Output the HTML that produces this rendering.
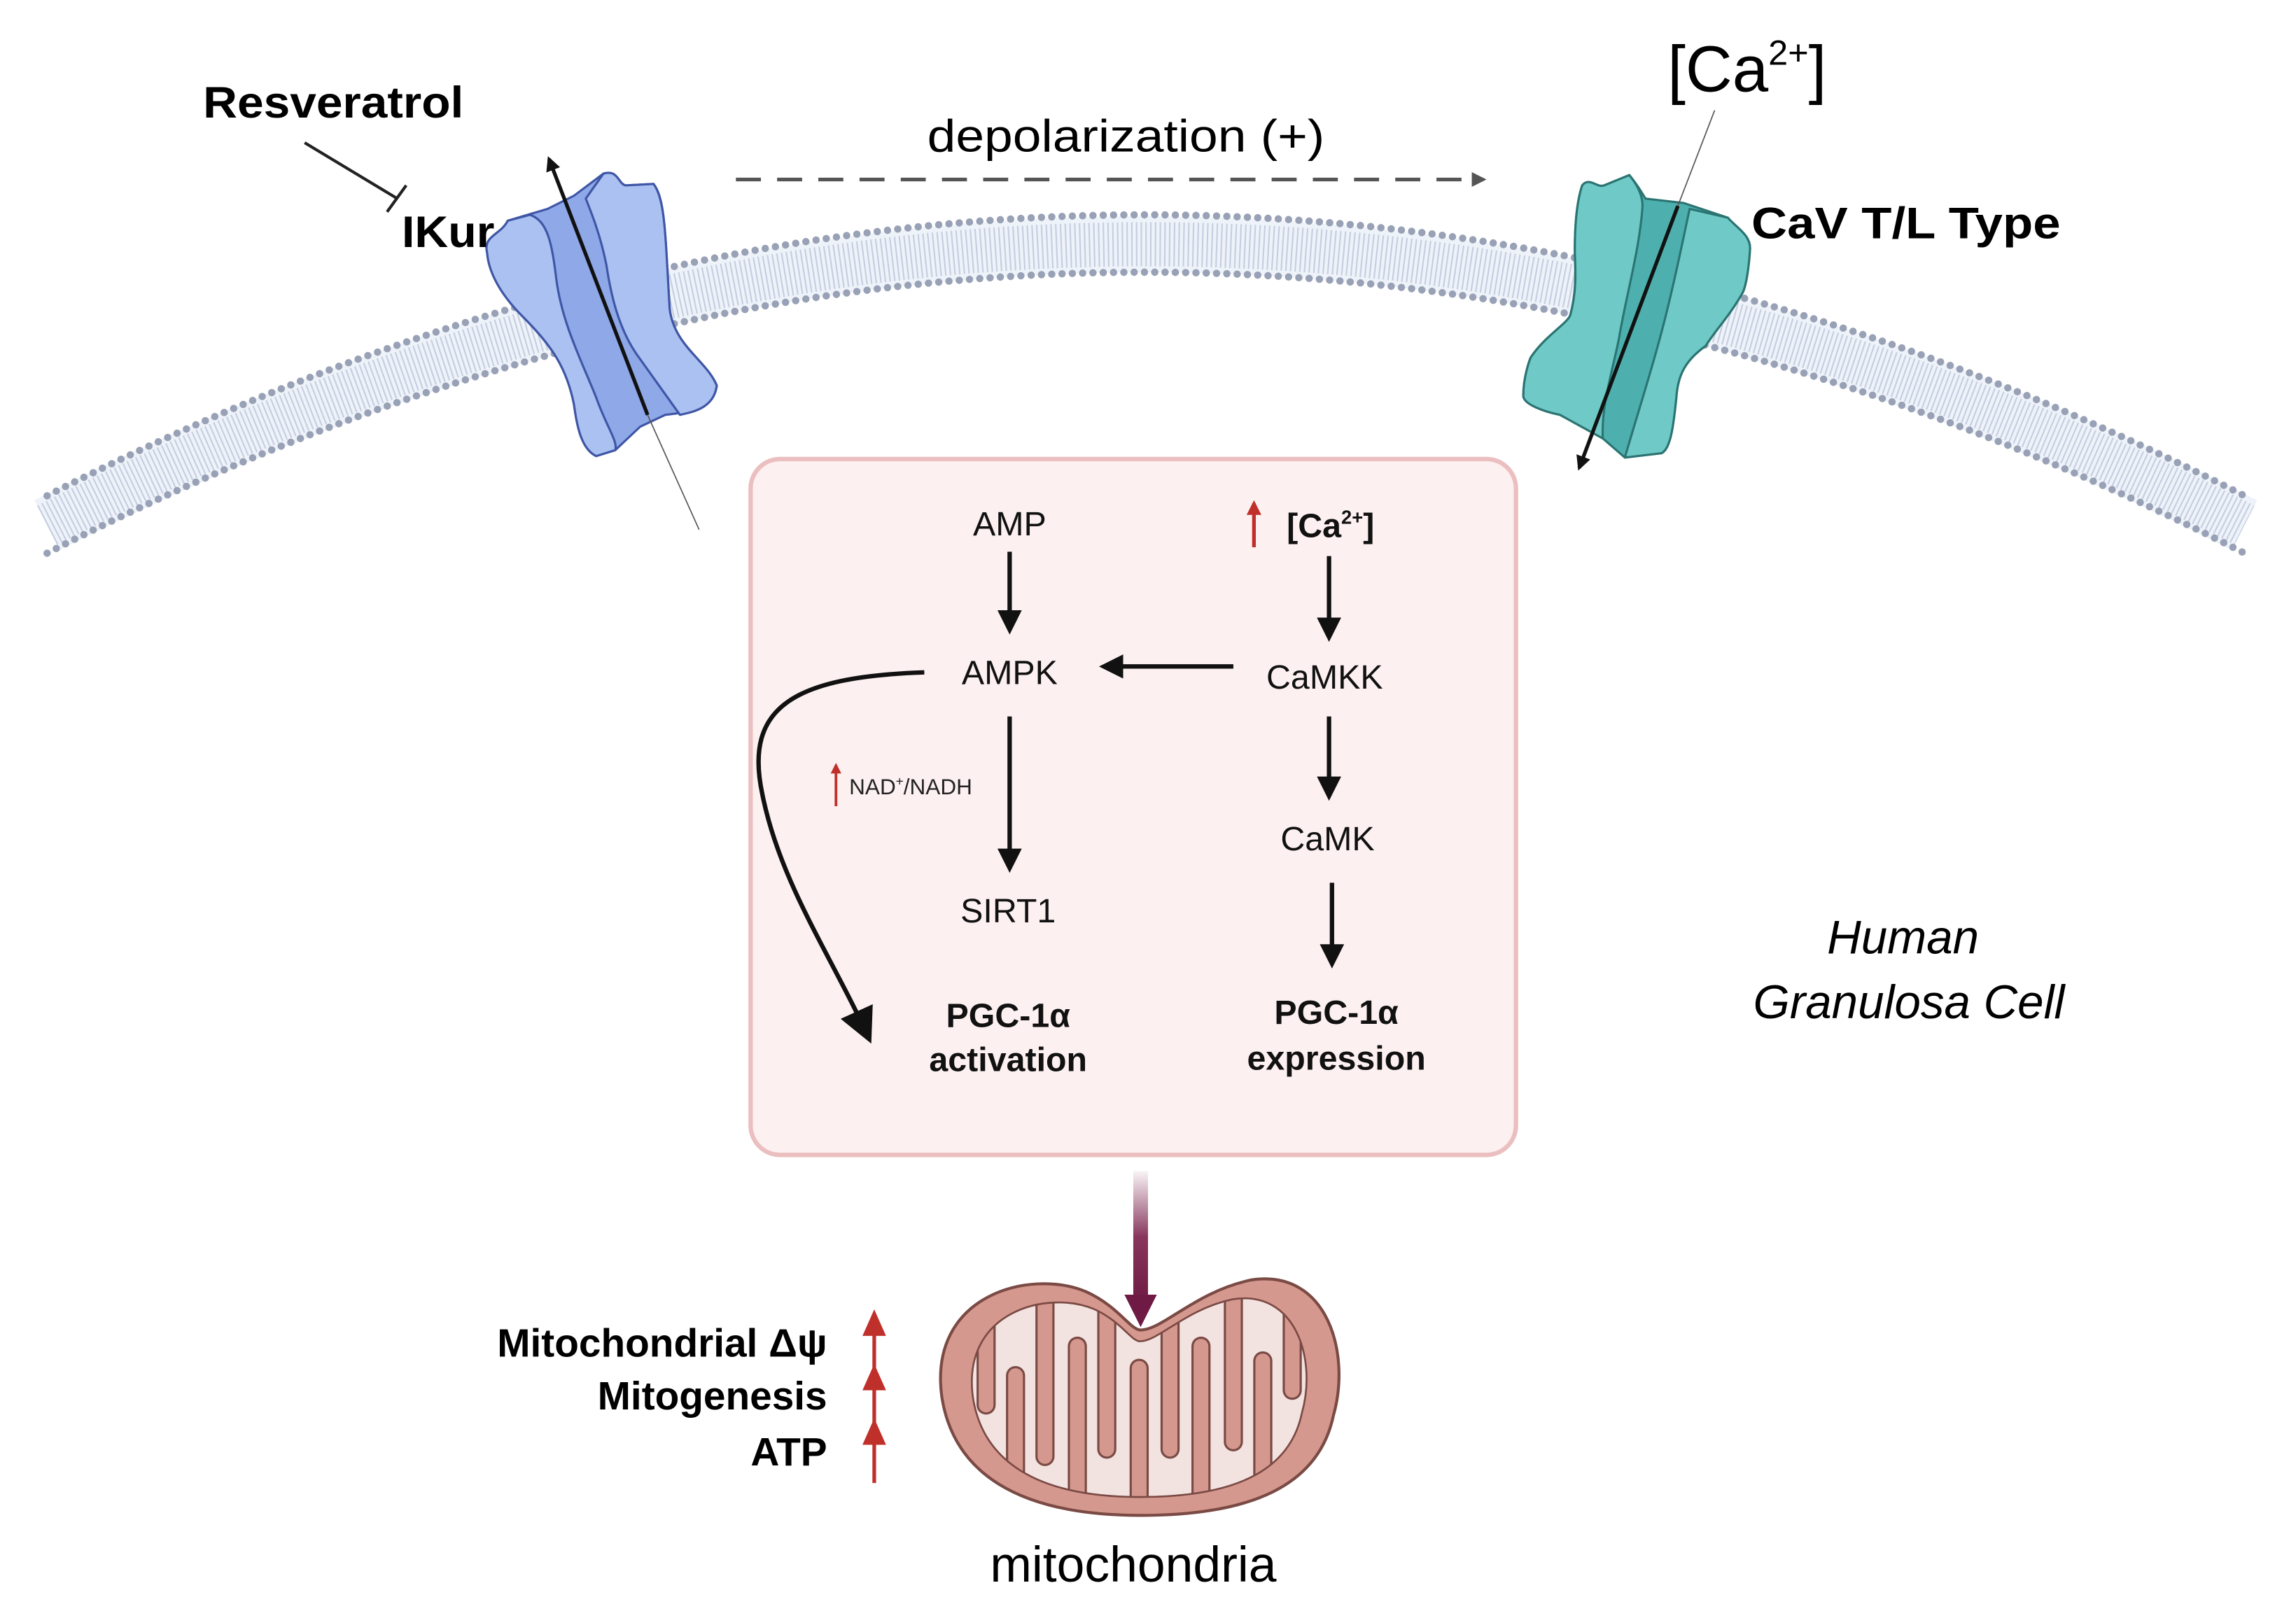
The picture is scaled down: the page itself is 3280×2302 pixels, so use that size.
<!DOCTYPE html>
<html><head><meta charset="utf-8"><style>
html,body{margin:0;padding:0;background:#fff;}
svg{display:block;}
text{font-family:"Liberation Sans",Arial,sans-serif;}
</style></head><body>
<svg width="3280" height="2302" viewBox="0 0 1560 1095" preserveAspectRatio="none" xmlns="http://www.w3.org/2000/svg">
<defs>
<marker id="ah" viewBox="0 0 10 10" refX="8" refY="5" markerWidth="5.5" markerHeight="5.5" orient="auto"><path d="M0,0 L10,5 L0,10Z" fill="#111"/></marker>
<marker id="ahs" viewBox="0 0 10 10" refX="8" refY="5" markerWidth="4" markerHeight="4" orient="auto"><path d="M0,0 L10,5 L0,10Z" fill="#111"/></marker>
<marker id="ahb" viewBox="0 0 10 10" refX="8" refY="5" markerWidth="8" markerHeight="8" orient="auto"><path d="M0,0 L10,5 L0,10Z" fill="#111"/></marker>
<marker id="ahd" viewBox="0 0 10 10" refX="8" refY="5" markerWidth="4" markerHeight="4" orient="auto"><path d="M0,0 L10,5 L0,10Z" fill="#555"/></marker>
<marker id="ahr" viewBox="0 0 10 10" refX="8" refY="5" markerWidth="4" markerHeight="4" orient="auto"><path d="M0,0 L10,5 L0,10Z" fill="#c0302a"/></marker>
<linearGradient id="pg" x1="0" y1="0" x2="0" y2="1"><stop offset="0" stop-color="#7a1f4a" stop-opacity="0.05"/><stop offset="0.5" stop-color="#7a1f4a" stop-opacity="0.9"/><stop offset="1" stop-color="#6e1a44"/></linearGradient>
<clipPath id="mc"><path transform="translate(772 952) scale(0.84) translate(-772 -952)" d="M640,950 C630,880 700,862 738,878 C760,888 768,904 775,904 C790,904 812,878 850,870 C902,862 918,920 906,962 C896,1010 850,1030 775,1030 C690,1030 648,1000 640,950Z"/></clipPath>
</defs>

<path d="M32,357 Q778,-25 1525,357" fill="none" stroke="#eef2f9" stroke-width="38"/>
<path d="M32,357 Q778,-25 1525,357" fill="none" stroke="#c5cde0" stroke-width="30" stroke-dasharray="1 2.2"/>
<path d="M32,337 Q778,-45 1525,337" fill="none" stroke="#98a1b5" stroke-width="5" stroke-linecap="round" stroke-dasharray="0 7"/>
<path d="M32,376 Q778,-6 1525,376" fill="none" stroke="#98a1b5" stroke-width="5" stroke-linecap="round" stroke-dasharray="0 7"/>

<g stroke="#3f56a6" stroke-width="1.5" stroke-linejoin="round">
<path fill="#8ea8e8" d="M331,172 C328,160 340,160 345,150 L372,142 L390,133 L410,118 C420,115 420,125 425,126 L444,125 C452,135 452,160 455,210 C458,235 480,245 487,262 C485,278 470,280 452,282 L435,290 L418,306 L405,310 C395,305 392,290 390,275 C385,250 375,235 355,215 C340,200 332,185 331,172Z"/>
<path fill="#aac1f1" d="M331,172 C328,160 340,160 345,150 L360,146 C372,150 375,165 378,190 C382,220 395,245 405,270 C412,290 420,300 418,306 L405,310 C395,305 392,290 390,275 C385,250 375,235 355,215 C340,200 332,185 331,172Z"/>
<path fill="#aac1f1" d="M398,135 L410,118 C420,115 420,125 425,126 L444,125 C452,135 452,160 455,210 C458,235 480,245 487,262 C485,278 470,280 462,282 C455,272 445,258 432,240 C420,222 415,200 412,180 C408,160 402,145 398,135Z"/>
</g>
<line x1="475" y1="360" x2="440" y2="282" stroke="#555" stroke-width="0.8"/>
<line x1="440" y1="282" x2="373" y2="108" stroke="#111" stroke-width="2.5" marker-end="url(#ahs)"/>

<g stroke="#2b7472" stroke-width="1.5" stroke-linejoin="round">
<path fill="#4db0ae" d="M1075,126 C1080,120 1085,128 1090,126 L1107,119 C1112,125 1115,130 1118,135 L1144,138 L1174,148 C1180,155 1190,160 1189,170 C1188,185 1186,195 1184,199 C1175,215 1165,225 1159,235 C1145,245 1140,255 1139,270 C1137,290 1135,305 1129,308 L1104,311 L1089,298 L1060,282 C1050,280 1035,275 1035,269 C1035,255 1040,243 1040,243 C1050,228 1065,220 1067,214 C1072,195 1070,180 1070,170 C1070,150 1072,135 1075,126Z"/>
<path fill="#6fcac7" d="M1075,126 C1080,120 1085,128 1090,126 L1107,119 C1112,125 1116,132 1116,140 C1114,170 1105,200 1100,230 C1095,255 1088,275 1089,298 L1060,282 C1050,280 1035,275 1035,269 C1035,255 1040,243 1040,243 C1050,228 1065,220 1067,214 C1072,195 1070,180 1070,170 C1070,150 1072,135 1075,126Z"/>
<path fill="#6fcac7" d="M1148,142 L1174,148 C1180,155 1190,160 1189,170 C1188,185 1186,195 1184,199 C1175,215 1165,225 1159,235 C1145,245 1140,255 1139,270 C1137,290 1135,305 1129,308 L1104,311 C1110,290 1118,265 1125,240 C1135,205 1142,170 1148,142Z"/>
</g>
<line x1="1165" y1="75" x2="1140" y2="140" stroke="#555" stroke-width="0.8"/>
<line x1="1140" y1="140" x2="1073" y2="318" stroke="#111" stroke-width="2.5" marker-end="url(#ahs)"/>

<text x="138" y="80" font-size="30" font-weight="bold" textLength="177" lengthAdjust="spacingAndGlyphs">Resveratrol</text>
<line x1="207" y1="97" x2="270" y2="135" stroke="#222" stroke-width="2"/>
<line x1="263" y1="144" x2="276" y2="126" stroke="#222" stroke-width="2"/>
<text x="273" y="168" font-size="30" font-weight="bold" textLength="63" lengthAdjust="spacingAndGlyphs">IKur</text>
<text x="630" y="103" font-size="31" textLength="270" lengthAdjust="spacingAndGlyphs">depolarization (+)</text>
<line x1="500" y1="122" x2="1008" y2="122" stroke="#555" stroke-width="2.5" stroke-dasharray="17 11" marker-end="url(#ahd)"/>
<text x="1133" y="62" font-size="44">[Ca<tspan font-size="24" dy="-18">2+</tspan><tspan dy="18">]</tspan></text>
<text x="1190" y="162" font-size="30" font-weight="bold" textLength="210" lengthAdjust="spacingAndGlyphs">CaV T/L Type</text>

<rect x="510" y="312" width="520" height="473" rx="20" fill="#fdf0f0" stroke="#ebbfc0" stroke-width="3"/>
<g font-size="23" text-anchor="middle" fill="#111">
<text x="686" y="364">AMP</text>
<text x="686" y="465">AMPK</text>
<text x="900" y="468">CaMKK</text>
<text x="902" y="578">CaMK</text>
<text x="685" y="627">SIRT1</text>
<text x="904" y="365" font-weight="bold">[Ca<tspan font-size="13" dy="-9">2+</tspan><tspan dy="9">]</tspan></text>
<text x="685" y="698" font-weight="bold">PGC-1α</text>
<text x="685" y="728" font-weight="bold">activation</text>
<text x="908" y="696" font-weight="bold">PGC-1α</text>
<text x="908" y="727" font-weight="bold">expression</text>
</g>
<g stroke="#111" stroke-width="3" marker-end="url(#ah)" fill="none">
<line x1="686" y1="375" x2="686" y2="428"/>
<line x1="903" y1="378" x2="903" y2="433"/>
<line x1="838" y1="453" x2="750" y2="453"/>
<line x1="903" y1="487" x2="903" y2="541"/>
<line x1="905" y1="600" x2="905" y2="655"/>
<line x1="686" y1="487" x2="686" y2="590"/>
</g>
<path d="M628,457 C540,460 505,480 518,540 C530,600 565,650 590,705" fill="none" stroke="#111" stroke-width="3" marker-end="url(#ahb)"/>
<line x1="852" y1="372" x2="852" y2="342" stroke="#c0302a" stroke-width="2.5" marker-end="url(#ahr)"/>
<line x1="568" y1="548" x2="568" y2="520" stroke="#c0302a" stroke-width="1.8" marker-end="url(#ahr)"/>
<text x="577" y="540" font-size="15" fill="#222">NAD<tspan font-size="9" dy="-6">+</tspan><tspan dy="6">/NADH</tspan></text>

<text x="1293" y="648" font-size="32" font-style="italic" text-anchor="middle">Human</text>
<text x="1297" y="692" font-size="32" font-style="italic" text-anchor="middle">Granulosa Cell</text>

<rect x="770" y="796" width="10" height="90" fill="url(#pg)"/>
<path d="M764,880 L786,880 L775,902Z" fill="#6e1a44"/>

<path d="M640,950 C630,880 700,862 738,878 C760,888 768,904 775,904 C790,904 812,878 850,870 C902,862 918,920 906,962 C896,1010 850,1030 775,1030 C690,1030 648,1000 640,950Z" fill="#d5988e" stroke="#7a4a44" stroke-width="2"/>
<path transform="translate(772 952) scale(0.84) translate(-772 -952)" d="M640,950 C630,880 700,862 738,878 C760,888 768,904 775,904 C790,904 812,878 850,870 C902,862 918,920 906,962 C896,1010 850,1030 775,1030 C690,1030 648,1000 640,950Z" fill="#f2e3e1"/>
<g clip-path="url(#mc)" stroke-linecap="round">
<g stroke="#7a4a44" stroke-width="13">
<line x1="670" y1="850" x2="670" y2="955"/><line x1="710" y1="850" x2="710" y2="990"/><line x1="752" y1="850" x2="752" y2="985"/><line x1="795" y1="850" x2="795" y2="985"/><line x1="838" y1="850" x2="838" y2="980"/><line x1="878" y1="850" x2="878" y2="945"/>
<line x1="690" y1="1050" x2="690" y2="935"/><line x1="732" y1="1050" x2="732" y2="915"/><line x1="774" y1="1050" x2="774" y2="930"/><line x1="816" y1="1050" x2="816" y2="915"/><line x1="858" y1="1050" x2="858" y2="925"/>
</g>
<g stroke="#d5988e" stroke-width="10">
<line x1="670" y1="850" x2="670" y2="955"/><line x1="710" y1="850" x2="710" y2="990"/><line x1="752" y1="850" x2="752" y2="985"/><line x1="795" y1="850" x2="795" y2="985"/><line x1="838" y1="850" x2="838" y2="980"/><line x1="878" y1="850" x2="878" y2="945"/>
<line x1="690" y1="1050" x2="690" y2="935"/><line x1="732" y1="1050" x2="732" y2="915"/><line x1="774" y1="1050" x2="774" y2="930"/><line x1="816" y1="1050" x2="816" y2="915"/><line x1="858" y1="1050" x2="858" y2="925"/>
</g>
</g>
<path transform="translate(772 952) scale(0.84) translate(-772 -952)" d="M640,950 C630,880 700,862 738,878 C760,888 768,904 775,904 C790,904 812,878 850,870 C902,862 918,920 906,962 C896,1010 850,1030 775,1030 C690,1030 648,1000 640,950Z" fill="none" stroke="#7a4a44" stroke-width="1.5"/>
<text x="770" y="1075" font-size="34" text-anchor="middle">mitochondria</text>

<g font-size="27" font-weight="bold" text-anchor="end">
<text x="562" y="922">Mitochondrial Δψ</text>
<text x="562" y="958">Mitogenesis</text>
<text x="562" y="996">ATP</text>
</g>
<line x1="594" y1="1008" x2="594" y2="894" stroke="#c0302a" stroke-width="2.5"/>
<path d="M586,908 L594,890 L602,908Z M586,945 L594,927 L602,945Z M586,982 L594,964 L602,982Z" fill="#c0302a"/>
</svg>
</body></html>
